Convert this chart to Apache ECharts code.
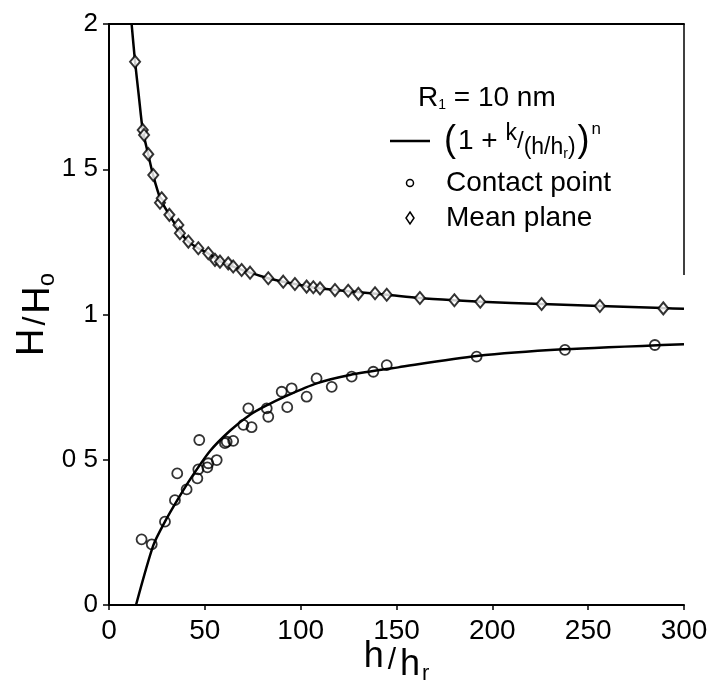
<!DOCTYPE html>
<html>
<head>
<meta charset="utf-8">
<script src="https://cdn.jsdelivr.net/npm/echarts@6/dist/echarts.min.js"></script>
<style>
html,body{margin:0;padding:0;background:#fff;}
#chart{width:707px;height:689px;}
</style>
</head>
<body>
<div id="chart"></div>
<script>
// x tick values and y tick labels (as printed)
var xTicks = [0, 50, 100, 150, 200, 250, 300];
var yTickValues = [0, 0.5, 1, 1.5, 2];
var yTickLabels = ['0', '0 5', '1', '1 5', '2'];

// Mean plane (diamonds)
var meanX = [13.6,17.6,18.3,20.5,23.1,26.6,27.5,31.5,36.2,37.0,41.4,46.6,51.8,55.3,57.9,62.2,64.8,69.2,73.6,83.1,90.9,97.0,103.1,106.6,110.1,117.9,124.8,130.1,138.8,144.9,162.2,180.2,193.7,225.7,256.1,289.2];
var meanY = [1.870,1.635,1.618,1.552,1.480,1.385,1.400,1.343,1.308,1.280,1.251,1.228,1.211,1.188,1.182,1.176,1.165,1.153,1.144,1.125,1.113,1.105,1.096,1.094,1.090,1.084,1.082,1.071,1.073,1.068,1.057,1.049,1.044,1.036,1.029,1.021];

// Contact point (circles)
var contactX = [17.0,22.3,29.2,34.4,35.6,40.5,46.1,46.6,47.1,51.3,51.8,56.2,60.5,61.4,64.8,70.1,72.7,74.4,82.3,83.1,90.1,93.0,95.3,103.1,108.3,116.2,126.6,137.9,144.9,191.8,237.9,284.8];
var contactY = [0.226,0.209,0.287,0.361,0.453,0.398,0.436,0.467,0.568,0.474,0.488,0.499,0.557,0.562,0.565,0.620,0.677,0.612,0.677,0.648,0.734,0.681,0.746,0.717,0.780,0.751,0.786,0.803,0.826,0.855,0.878,0.895];

// Fitted curve (1 + k/(h/hr))^n: upper branch
var fitUpX = [11.8,13.6,15.6,17.6,20.5,23.0,27.0,31.5,37.0,41.4,46.6,51.8,57.9,64.8,73.6,83.0,97.0,110.0,125.0,145.0,162.0,180.0,194.0,226.0,256.0,289.0,300.0];
var fitUpY = [2.0,1.87,1.75,1.635,1.55,1.48,1.395,1.343,1.285,1.251,1.228,1.21,1.184,1.165,1.144,1.125,1.105,1.09,1.08,1.068,1.057,1.049,1.044,1.036,1.029,1.022,1.020];
// lower branch
var fitLoX = [14.1,23.1,29.2,36.2,43.1,52.7,63.1,73.6,83.1,90.9,108.3,125.7,150.9,191.8,237.0,300.0];
var fitLoY = [0.0,0.205,0.287,0.367,0.440,0.530,0.600,0.655,0.690,0.715,0.763,0.792,0.818,0.857,0.880,0.898];

function zip(a, b) { var r = []; for (var i = 0; i < a.length; i++) r.push([a[i], b[i]]); return r; }

var FONT = 'Liberation Sans, Arial, Helvetica, sans-serif';
var chart = echarts.init(document.getElementById('chart'), null, {renderer: 'canvas'});

var option = {
  backgroundColor: '#fff',
  animation: false,
  grid: {left: 109, right: 23, top: 24, bottom: 84, containLabel: false, outerBoundsMode: 'none'},
  xAxis: [{
    type: 'value', min: 0, max: 300, interval: 50,
    axisLine: {lineStyle: {color: '#000', width: 2}},
    axisTick: {show: true, inside: false, length: 5, lineStyle: {color: '#000', width: 1.5}},
    splitLine: {show: false},
    axisLabel: {color: '#000', fontSize: 28, fontFamily: FONT, margin: 12,
      formatter: function (v) { return xTicks.indexOf(v) >= 0 ? String(v) : ''; }},
    name: '{a|h}{s|/}{b|h}{c|r}',
    nameLocation: 'middle', nameGap: 32, nameMoveOverlap: false,
    nameTextStyle: {
      fontFamily: FONT, color: '#000',
      rich: {
        a: {fontSize: 36, fontFamily: FONT, color: '#000', padding: [0, 0, 8, 0]},
        s: {fontSize: 30, fontFamily: FONT, color: '#000', padding: [0, 4, 0, 4]},
        b: {fontSize: 36, fontFamily: FONT, color: '#000', padding: [8, 0, 0, 0]},
        c: {fontSize: 22, fontFamily: FONT, color: '#000', padding: [26, 0, 0, 2]}
      }
    }
  }, {
    type: 'value', min: 0, max: 300, position: 'top',
    axisLine: {show: true, lineStyle: {color: '#000', width: 2}},
    axisTick: {show: false}, axisLabel: {show: false}, splitLine: {show: false}
  }],
  yAxis: [{
    type: 'value', min: 0, max: 2, interval: 0.5,
    axisLine: {show: true, lineStyle: {color: '#000', width: 2}},
    axisTick: {show: true, inside: false, length: 6, lineStyle: {color: '#000', width: 1.5}},
    splitLine: {show: false},
    axisLabel: {color: '#000', fontSize: 26, fontFamily: FONT, margin: 11,
      formatter: function (v) {
        for (var i = 0; i < yTickValues.length; i++) if (Math.abs(yTickValues[i] - v) < 1e-9) return yTickLabels[i];
        return '';
      }},
    name: '{a|H}{s|/}{b|H}{c|o}',
    nameLocation: 'middle', nameGap: 50, nameRotate: 90, nameMoveOverlap: false,
    nameTextStyle: {
      fontFamily: FONT, color: '#000',
      rich: {
        a: {fontSize: 38, fontFamily: FONT, color: '#000', padding: [0, 0, 6, 0]},
        s: {fontSize: 32, fontFamily: FONT, color: '#000', padding: [0, 3, 0, 3]},
        b: {fontSize: 38, fontFamily: FONT, color: '#000', padding: [6, 0, 0, 0]},
        c: {fontSize: 24, fontFamily: FONT, color: '#000', padding: [22, 0, 0, 0]}
      }
    }
  }],
  series: [
    {
      name: 'fitUp', type: 'line', data: zip(fitUpX, fitUpY), smooth: 0.25,
      showSymbol: false, symbol: 'none', clip: true,
      lineStyle: {color: '#000', width: 2.5}, z: 2
    },
    {
      name: 'fitLo', type: 'line', data: zip(fitLoX, fitLoY), smooth: 0.25,
      showSymbol: false, symbol: 'none', clip: true,
      lineStyle: {color: '#000', width: 2.5}, z: 2
    },
    {
      name: 'Mean plane', type: 'scatter', data: zip(meanX, meanY),
      symbol: 'diamond', symbolSize: [10, 12],
      itemStyle: {color: '#fff', borderColor: '#000', borderWidth: 2}, z: 3
    },
    {
      name: 'Contact point', type: 'scatter', data: zip(contactX, contactY),
      symbol: 'circle', symbolSize: 10,
      itemStyle: {color: 'rgba(255,255,255,0)', borderColor: '#000', borderWidth: 1.8}, z: 3
    }
  ]
};
chart.setOption(option);

// frame on the right (partial) and legend block
var pTop = chart.convertToPixel({xAxisIndex: 0, yAxisIndex: 0}, [300, 2]);
var pEnd = chart.convertToPixel({xAxisIndex: 0, yAxisIndex: 0}, [300, 1.136]);

chart.setOption({
  graphic: [
    {type: 'line', shape: {x1: pTop[0], y1: pTop[1], x2: pEnd[0], y2: pEnd[1]}, style: {stroke: '#000', lineWidth: 1.5}, z: 10},
    {type: 'text', x: 418, y: 98, style: {
      text: '{a|R}{b|1}{c| = 10 nm}', fontFamily: FONT, fill: '#000', verticalAlign: 'middle',
      rich: {
        a: {fontSize: 28, fontFamily: FONT, fill: '#000'},
        b: {fontSize: 14, fontFamily: FONT, fill: '#000', padding: [14, 0, 0, 0]},
        c: {fontSize: 28, fontFamily: FONT, fill: '#000'}
      }}, z: 10},
    {type: 'line', shape: {x1: 390, y1: 141, x2: 430, y2: 141}, style: {stroke: '#000', lineWidth: 2.5}, z: 10},
    {type: 'text', x: 442, y: 141, style: {
      text: '{p|(}{n|1 + }{k|k}{sl|/}{q|(h/h}{r|r}{q|)}{p|)}{e|n}',
      fontFamily: FONT, fill: '#000', verticalAlign: 'middle',
      rich: {
        p: {fontSize: 36, fontFamily: FONT, fill: '#000', padding: [0, 2, 0, 2]},
        n: {fontSize: 28, fontFamily: FONT, fill: '#000'},
        k: {fontSize: 23, fontFamily: FONT, fill: '#000', padding: [0, 0, 14, 0]},
        sl: {fontSize: 24, fontFamily: FONT, fill: '#000'},
        q: {fontSize: 23, fontFamily: FONT, fill: '#000', padding: [14, 0, 0, 0]},
        r: {fontSize: 14, fontFamily: FONT, fill: '#000', padding: [26, 0, 0, 0]},
        e: {fontSize: 17, fontFamily: FONT, fill: '#000', padding: [0, 0, 24, 0]}
      }}, z: 10},
    {type: 'circle', shape: {cx: 410, cy: 183, r: 3.5}, style: {fill: 'none', stroke: '#000', lineWidth: 1.5}, z: 10},
    {type: 'text', x: 446, y: 183, style: {text: 'Contact point', fontSize: 28, fontFamily: FONT, fill: '#000', verticalAlign: 'middle'}, z: 10},
    {type: 'polygon', shape: {points: [[410, 212], [414, 218], [410, 224], [406, 218]]}, style: {fill: 'none', stroke: '#000', lineWidth: 1.5}, z: 10},
    {type: 'text', x: 446, y: 218, style: {text: 'Mean plane', fontSize: 28, fontFamily: FONT, fill: '#000', verticalAlign: 'middle'}, z: 10}
  ]
});
</script>
</body>
</html>
